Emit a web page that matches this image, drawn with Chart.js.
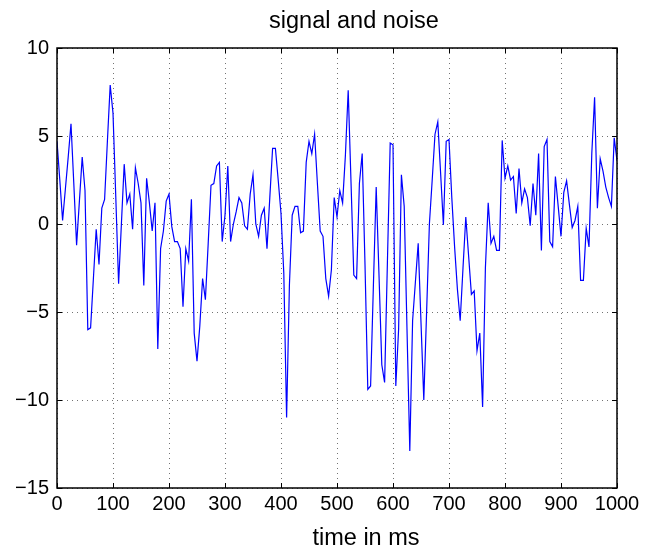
<!DOCTYPE html>
<html>
<head>
<meta charset="utf-8">
<script src="https://cdn.jsdelivr.net/npm/chart.js@4/dist/chart.umd.min.js"></script>
<style>
  html, body { margin: 0; padding: 0; background: #fff; }
  #wrap { width: 653px; height: 547px; }
</style>
</head>
<body>
<div id="wrap"><canvas id="grafico" width="653" height="547"></canvas></div>
<script>
// tiempo de cada muestra (ms)
const tiempoMs = [
  0, 5, 10, 15, 20, 25, 30, 35, 40, 45, 50, 55, 60, 65, 70, 75, 80, 85, 90, 95,
  100, 105, 110, 115, 120, 125, 130, 135, 140, 145, 150, 155, 160, 165, 170, 175, 180, 185, 190, 195,
  200, 205, 210, 215, 220, 225, 230, 235, 240, 245, 250, 255, 260, 265, 270, 275, 280, 285, 290, 295,
  300, 305, 310, 315, 320, 325, 330, 335, 340, 345, 350, 355, 360, 365, 370, 375, 380, 385, 390, 395,
  400, 405, 410, 415, 420, 425, 430, 435, 440, 445, 450, 455, 460, 465, 470, 475, 480, 485, 490, 495,
  500, 505, 510, 515, 520, 525, 530, 535, 540, 545, 550, 555, 560, 565, 570, 575, 580, 585, 590, 595,
  600, 605, 610, 615, 620, 625, 630, 635, 640, 645, 650, 655, 660, 665, 670, 675, 680, 685, 690, 695,
  700, 705, 710, 715, 720, 725, 730, 735, 740, 745, 750, 755, 760, 765, 770, 775, 780, 785, 790, 795,
  800, 805, 810, 815, 820, 825, 830, 835, 840, 845, 850, 855, 860, 865, 870, 875, 880, 885, 890, 895,
  900, 905, 910, 915, 920, 925, 930, 935, 940, 945, 950, 955, 960, 965, 970, 975, 980, 985, 990, 995,
  1000
];

// señal con ruido
const senal = [
  4.7, 2.5, 0.2, 2.0, 3.8, 5.7, 2.3, -1.2, 1.3, 3.8,
  1.9, -6.0, -5.9, -3.1, -0.3, -2.3, 0.9, 1.4, 4.7, 7.9,
  6.3, 1.5, -3.4, 0.0, 3.4, 1.2, 1.7, -0.3, 3.2, 2.3,
  1.2, -3.5, 2.6, 1.2, -0.4, 1.2, -7.1, -1.4, -0.4, 1.3,
  1.7, -0.15, -1.0, -1.0, -1.4, -4.7, -1.4, -2.1, 1.4, -6.2,
  -7.8, -5.8, -3.1, -4.3, -1.1, 2.2, 2.3, 3.3, 3.5, -1.0,
  0.5, 3.3, -1.0, 0.0, 0.7, 1.5, 1.2, -0.1, -0.3, 1.7,
  2.8, 0.0, -0.7, 0.5, 0.9, -1.4, 1.5, 4.3, 4.3, 2.5,
  0.6, -2.8, -11.0, -3.5, 0.5, 1.0, 1.0, -0.5, -0.4, 3.5,
  4.7, 4.0, 5.1, 2.3, -0.4, -0.7, -3.1, -4.1, -2.6, 1.5,
  0.4, 1.9, 1.2, 3.9, 7.6, 2.4, -2.9, -3.1, 2.3, 4.0,
  -2.3, -9.4, -9.2, -3.5, 2.1, -2.9, -8.0, -9.0, -2.2, 4.6,
  4.5, -9.2, -6.0, 2.8, 1.0, -6.0, -12.9, -5.5, -3.3, -1.1,
  -5.6, -10.0, -5.0, 0.0, 2.5, 5.1, 5.8, 2.9, -0.05, 4.7,
  4.8, 1.5, -1.3, -3.7, -5.5, -2.5, 0.4, -1.8, -4.0, -3.8,
  -7.2, -6.2, -10.4, -2.5, 1.2, -1.1, -0.7, -1.5, -1.5, 4.75,
  2.6, 3.3, 2.5, 2.7, 0.6, 3.15, 1.2, 2.0, 1.5, -0.1,
  2.3, 0.5, 4.0, -1.5, 4.4, 4.8, -1.0, -1.3, 2.7, 1.0,
  -0.7, 1.8, 2.45, 1.1, -0.2, 0.2, 1.0, -3.2, -3.2, -0.25,
  -1.3, 4.0, 7.2, 0.9, 3.7, 3.0, 2.1, 1.5, 1.0, 4.9,
  3.6
];

const tituloTexto = "signal and noise";
const ejeXTexto = "time in ms";

const fuente = '"Liberation Sans", Arial, Helvetica, sans-serif';

// caja negra con marcas hacia adentro y textos sueltos (estilo matlab)
const cajaPlugin = {
  id: 'caja',
  afterDraw(chart) {
    const ctx = chart.ctx;
    const a = chart.chartArea;
    const sx = chart.scales.x, sy = chart.scales.y;
    ctx.save();
    ctx.strokeStyle = '#000';
    ctx.lineWidth = 1.5;
    ctx.strokeRect(a.left, a.top, a.right - a.left, a.bottom - a.top);
    ctx.lineWidth = 1;
    const largo = 5;
    ctx.beginPath();
    sx.ticks.forEach(t => {
      const px = Math.round(sx.getPixelForValue(t.value)) + 0.5;
      ctx.moveTo(px, a.bottom); ctx.lineTo(px, a.bottom - largo);
      ctx.moveTo(px, a.top); ctx.lineTo(px, a.top + largo);
    });
    sy.ticks.forEach(t => {
      const py = Math.round(sy.getPixelForValue(t.value)) + 0.5;
      ctx.moveTo(a.left, py); ctx.lineTo(a.left + largo, py);
      ctx.moveTo(a.right, py); ctx.lineTo(a.right - largo, py);
    });
    ctx.stroke();

    ctx.fillStyle = '#000';
    ctx.textAlign = 'center';
    ctx.textBaseline = 'alphabetic';
    ctx.font = '23.5px ' + fuente;
    ctx.fillText(tituloTexto, 354, 28);
    ctx.fillText(ejeXTexto, 366, 545);
    ctx.restore();
  }
};

const grafico = new Chart(document.getElementById('grafico'), {
  type: 'line',
  data: {
    datasets: [{
      data: tiempoMs.map((t, i) => ({ x: t, y: senal[i] })),
      borderColor: 'rgb(0,0,255)',
      borderWidth: 1.2,
      pointRadius: 0,
      tension: 0,
      fill: false
    }]
  },
  options: {
    responsive: false,
    animation: false,
    events: [],
    layout: { padding: { top: 48, right: 36, bottom: 0, left: 0 } },
    plugins: {
      legend: { display: false },
      tooltip: { enabled: false },
      title: { display: false }
    },
    scales: {
      x: {
        type: 'linear',
        min: 0,
        max: 1000,
        afterFit: s => { s.height = 59; },
        ticks: {
          stepSize: 100,
          padding: 4,
          maxRotation: 0,
          color: '#000',
          font: { family: fuente, size: 20 },
          callback: v => String(v)
        },
        grid: { color: 'rgba(0,0,0,0.55)', drawTicks: false, lineWidth: 1 },
        border: { display: false, dash: [1, 4] }
      },
      y: {
        min: -15,
        max: 10,
        afterFit: s => { s.width = 57; },
        ticks: {
          stepSize: 5,
          padding: 8,
          color: '#000',
          font: { family: fuente, size: 20 },
          callback: v => String(v).replace('-', '\u2212')
        },
        grid: { color: 'rgba(0,0,0,0.55)', drawTicks: false, lineWidth: 1 },
        border: { display: false, dash: [1, 4] }
      }
    }
  },
  plugins: [cajaPlugin]
});
</script>
</body>
</html>
